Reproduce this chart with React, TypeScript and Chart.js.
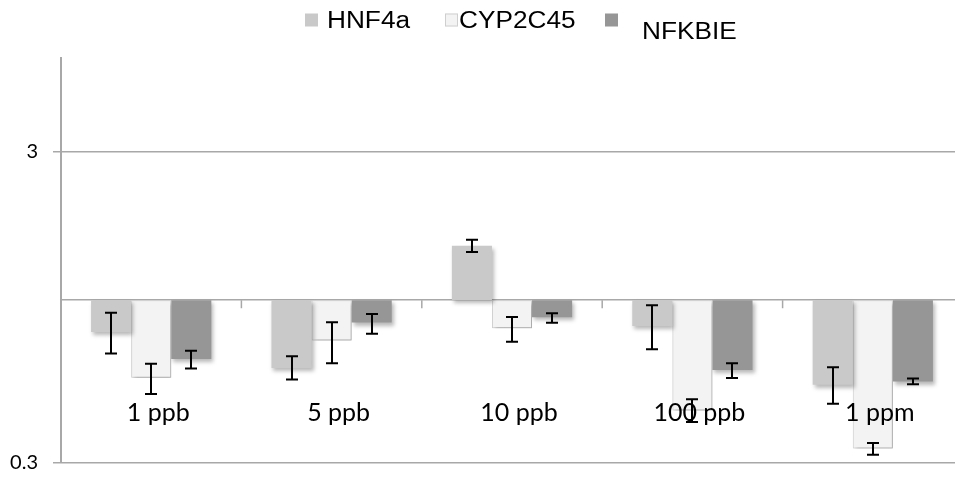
import React, { useEffect, useRef } from "react";
import { Chart, registerables } from "chart.js";

Chart.register(...registerables);

const categories = ["1 ppb", "5 ppb", "10 ppb", "100 ppb", "1 ppm"];
const seriesNames = ["HNF4a", "CYP2C45", "NFKBIE"];
const hnf4a = [0.79, 0.606, 1.496, 0.827, 0.535];
const cyp2c45 = [0.564, 0.742, 0.813, 0.442, 0.334];
const nfkbie = [0.647, 0.848, 0.882, 0.597, 0.548];
const hnf4aErrLow = [0.674, 0.556, 1.428, 0.696, 0.465];
const hnf4aErrHigh = [0.911, 0.661, 1.564, 0.964, 0.609];
const cyp2c45ErrLow = [0.5, 0.628, 0.735, 0.406, 0.319];
const cyp2c45ErrHigh = [0.625, 0.85, 0.884, 0.481, 0.348];
const nfkbieErrLow = [0.603, 0.78, 0.846, 0.563, 0.537];
const nfkbieErrHigh = [0.688, 0.904, 0.909, 0.628, 0.56];
const yTicks = [0.3, 1, 3];
const yMin = 0.3;
const yMax = 6;
const baseValue = 1;

const fills = ["#c9c9c9", "#f3f3f3", "#969696"];
const borders = ["#c9c9c9", "#d4d4d4", "#969696"];

export default function App() {
  const ref = useRef<HTMLCanvasElement>(null);
  useEffect(() => {
    const canvas = ref.current!;
    const values = [hnf4a, cyp2c45, nfkbie];
    const errLow = [hnf4aErrLow, cyp2c45ErrLow, nfkbieErrLow];
    const errHigh = [hnf4aErrHigh, cyp2c45ErrHigh, nfkbieErrHigh];

    const customPlugin = {
      id: "custom",
      beforeDatasetDraw(chart: any) {
        const ctx = chart.ctx;
        ctx.save();
        ctx.shadowColor = "rgba(0,0,0,0.28)";
        ctx.shadowBlur = 4;
        ctx.shadowOffsetX = 2;
        ctx.shadowOffsetY = 3;
      },
      afterDatasetDraw(chart: any) {
        chart.ctx.restore();
      },
      afterDatasetsDraw(chart: any) {
        const ctx = chart.ctx;
        const y = chart.scales.y;
        const x = chart.scales.x;
        const area = chart.chartArea;
        const baseY = y.getPixelForValue(baseValue);
        ctx.save();
        ctx.strokeStyle = "#a8a8a8";
        ctx.lineWidth = 1.5;
        for (let i = 1; i < categories.length; i++) {
          const bx = (x.getPixelForTick(i - 1) + x.getPixelForTick(i)) / 2;
          ctx.beginPath();
          ctx.moveTo(bx, baseY);
          ctx.lineTo(bx, baseY + 8);
          ctx.stroke();
        }
        ctx.restore();
        ctx.save();
        ctx.strokeStyle = "#000";
        ctx.lineWidth = 2;
        for (let d = 0; d < values.length; d++) {
          const meta = chart.getDatasetMeta(d);
          meta.data.forEach((el: any, j: number) => {
            const ex = Math.round(el.x);
            const y1 = y.getPixelForValue(errLow[d][j]);
            const y2 = y.getPixelForValue(errHigh[d][j]);
            ctx.beginPath();
            ctx.moveTo(ex, y1);
            ctx.lineTo(ex, y2);
            ctx.moveTo(ex - 6, y1);
            ctx.lineTo(ex + 6, y1);
            ctx.moveTo(ex - 6, y2);
            ctx.lineTo(ex + 6, y2);
            ctx.stroke();
          });
        }
        ctx.restore();
        ctx.save();
        ctx.fillStyle = "#000";
        ctx.font = "25px Lato";
        ctx.textAlign = "center";
        ctx.textBaseline = "alphabetic";
        categories.forEach((c, i) => {
          ctx.fillText(c, x.getPixelForTick(i) + 7, area.bottom - 42);
        });
        ctx.restore();
      },
      afterDraw(chart: any) {
        const ctx = chart.ctx;
        const items = [
          { box: 305, text: 327, base: 28 },
          { box: 445, text: 459, base: 28 },
          { box: 605, text: 642, base: 38.5 },
        ];
        ctx.save();
        items.forEach((it, i) => {
          ctx.fillStyle = fills[i];
          ctx.fillRect(it.box, 13.5, 13, 13);
          if (i === 1) {
            ctx.strokeStyle = "#cfcfcf";
            ctx.lineWidth = 1;
            ctx.strokeRect(it.box + 0.5, 14, 12, 12);
          }
          ctx.save();
          ctx.translate(it.text, it.base);
          ctx.scale(1.14, 1);
          ctx.fillStyle = "#000";
          ctx.font = "23px 'Liberation Sans', Arial, sans-serif";
          ctx.textBaseline = "alphabetic";
          ctx.fillText(seriesNames[i], 0, 0);
          ctx.restore();
        });
        ctx.restore();
      },
    };

    const chart = new Chart(canvas, {
      type: "bar",
      data: {
        labels: categories,
        datasets: values.map((vals, i) => ({
          label: seriesNames[i],
          data: vals.map((v) => [baseValue, v]),
          backgroundColor: fills[i],
          borderColor: borders[i],
          borderWidth: i === 1 ? 1 : 0,
          borderSkipped: false,
          categoryPercentage: 2 / 3,
          barPercentage: 1,
        })),
      },
      options: {
        responsive: false,
        animation: false,
        events: [],
        layout: { padding: { top: 58, right: 0, left: 0, bottom: 14 } },
        plugins: {
          legend: { display: false },
          tooltip: { enabled: false },
          title: { display: false },
        },
        scales: {
          x: {
            type: "category",
            display: false,
          },
          y: {
            type: "logarithmic",
            min: yMin,
            max: yMax,
            afterBuildTicks: (s: any) => {
              s.ticks = yTicks.map((v) => ({ value: v }));
            },
            afterFit: (s: any) => {
              s.width = 61;
              s.paddingTop = 0;
              s.paddingBottom = 0;
            },
            grid: {
              color: "#a8a8a8",
              lineWidth: 1.5,
              tickLength: 8,
              tickColor: (c: any) => (c.tick && c.tick.value === baseValue ? "rgba(0,0,0,0)" : "#a8a8a8"),
            },
            border: { display: true, color: "#a8a8a8", width: 2 },
            ticks: {
              padding: 15,
              color: "#000",
              font: { family: "Lato", size: 20 },
              callback: (v: any) => (v === baseValue ? "" : String(v)),
            },
          },
        },
      },
      plugins: [customPlugin],
    });
    return () => chart.destroy();
  }, []);

  return (
    <div style={{ position: "fixed", left: 0, top: 0, width: 955, height: 477, overflow: "hidden", background: "#fff" }}>
      <canvas ref={ref} width={963} height={477} style={{ display: "block" }} />
    </div>
  );
}
